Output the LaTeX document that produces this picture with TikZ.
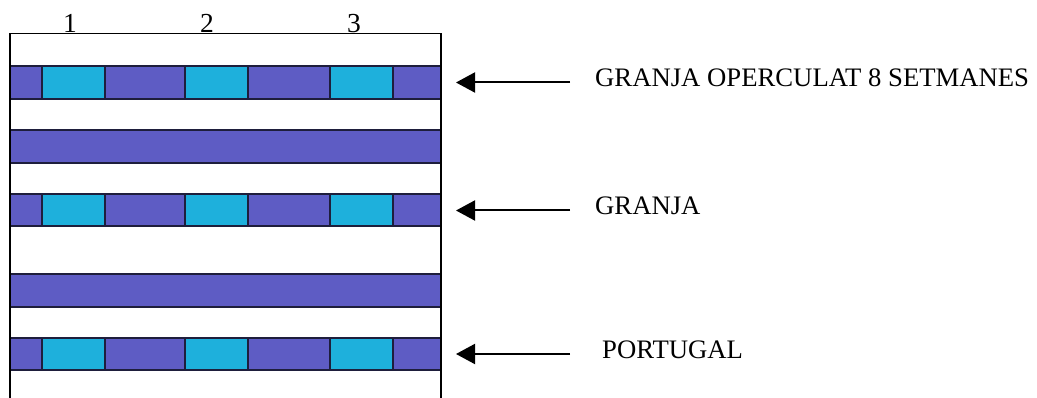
\documentclass[tikz,border=0pt]{standalone}
\usepackage{fontspec}
\setmainfont{Liberation Serif}
\usetikzlibrary{arrows.meta}
\definecolor{stripdark}{RGB}{94,92,196}
\definecolor{striplight}{RGB}{30,176,220}
\definecolor{edgeink}{RGB}{30,30,60}
\tikzset{
  frameline/.style={line width=1.5pt, black},
  edge/.style={line width=1.3pt, edgeink},
  lbl/.style={anchor=base west, inner sep=0pt, font=\fontsize{26.7}{30}\selectfont},
  colnum/.style={anchor=base, inner sep=0pt, font=\fontsize{27.5}{30}\selectfont},
  pointer/.style={line width=2pt, -{Triangle[length=19pt,width=20pt]}}
}
\begin{document}
\begin{tikzpicture}[x=1pt,y=-1pt]
  \useasboundingbox (0,0) rectangle (1037,398);
  \fill[white] (0,0) rectangle (1037,398);

  % striped strips with three light blocks
  \foreach \t/\b in {66/99, 194/226, 338/370} {
    \fill[stripdark] (10,\t) rectangle (441,\b);
    \foreach \l/\r in {42/105, 185/248, 330/393}
      \fill[striplight] (\l,\t) rectangle (\r,\b);
    \draw[edge] (10,\t) -- (441,\t) (10,\b) -- (441,\b);
    \foreach \x in {42,105,185,248,330,393}
      \draw[edge] (\x,\t) -- (\x,\b);
  }
  % plain strips
  \foreach \t/\b in {130/163, 274/307} {
    \fill[stripdark] (10,\t) rectangle (441,\b);
    \draw[edge] (10,\t) -- (441,\t) (10,\b) -- (441,\b);
  }

  % open frame
  \draw[frameline] (10,398) -- (10,33.5) -- (441,33.5) -- (441,398);

  % column numbers
  \node[colnum] (n1) at (70,32.5) {1};
  \node[colnum] (n2) at (207,32.5) {2};
  \node[colnum] (n3) at (354,32.5) {3};

  % labels and pointers
  \node[lbl] (l1) at (595,87) {GRANJA OPERCULAT 8 SETMANES};
  \node[lbl] (l2) at (595,215) {GRANJA};
  \node[lbl] (l3) at (602,358) {PORTUGAL};

  \coordinate (t1) at (570,82.5);  \coordinate (h1) at (456,82.5);
  \coordinate (t2) at (570,210.5); \coordinate (h2) at (456,210.5);
  \coordinate (t3) at (570,354);   \coordinate (h3) at (456,354);
  \draw[pointer] (t1) -- (h1);
  \draw[pointer] (t2) -- (h2);
  \draw[pointer] (t3) -- (h3);
\end{tikzpicture}
\end{document}
